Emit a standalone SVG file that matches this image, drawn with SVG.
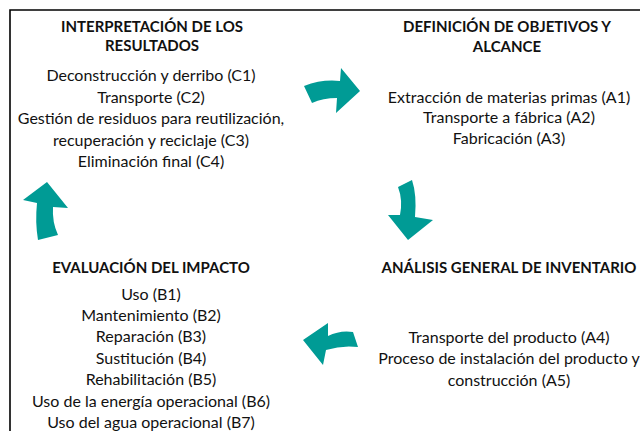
<svg xmlns="http://www.w3.org/2000/svg" width="640" height="431" viewBox="0 0 640 431">
<style>
.t{font-family:Lato,"Liberation Sans",sans-serif;font-size:16px;fill:#111;text-anchor:middle}
.h{font-family:Lato,"Liberation Sans",sans-serif;font-size:15px;font-weight:bold;fill:#111;text-anchor:middle}
.arr{fill:#009b95}
.frame{stroke:#000;stroke-width:1.6;fill:none}
</style>
<rect width="640" height="431" fill="#fff"/>
<path class="frame" d="M10,431 V10 H640"/>
<g id="interpretacion">
<text class="h" x="152" y="32">INTERPRETACIÓN DE LOS</text>
<text class="h" x="152" y="51">RESULTADOS</text>
<text class="t" x="151" y="81">Deconstrucción y derribo (C1)</text>
<text class="t" x="151" y="103">Transporte (C2)</text>
<text class="t" x="151" y="124">Gestión de residuos para reutilización,</text>
<text class="t" x="151" y="146">recuperación y reciclaje (C3)</text>
<text class="t" x="151" y="167">Eliminación final (C4)</text>
</g>
<g id="definicion">
<text class="h" x="507" y="32">DEFINICIÓN DE OBJETIVOS Y</text>
<text class="h" x="507" y="52">ALCANCE</text>
<text class="t" x="509" y="103">Extracción de materias primas (A1)</text>
<text class="t" x="509" y="123">Transporte a fábrica (A2)</text>
<text class="t" x="509" y="144">Fabricación (A3)</text>
</g>
<g id="analisis">
<text class="h" x="509" y="273">ANÁLISIS GENERAL DE INVENTARIO</text>
<text class="t" x="509" y="343">Transporte del producto (A4)</text>
<text class="t" x="509" y="364">Proceso de instalación del producto y</text>
<text class="t" x="509" y="386">construcción (A5)</text>
</g>
<g id="evaluacion">
<text class="h" x="151" y="273">EVALUACIÓN DEL IMPACTO</text>
<text class="t" x="151" y="300">Uso (B1)</text>
<text class="t" x="151" y="321">Mantenimiento (B2)</text>
<text class="t" x="151" y="342">Reparación (B3)</text>
<text class="t" x="151" y="364">Sustitución (B4)</text>
<text class="t" x="151" y="385">Rehabilitación (B5)</text>
<text class="t" x="151" y="407">Uso de la energía operacional (B6)</text>
<text class="t" x="151" y="428">Uso del agua operacional (B7)</text>
</g>
<g id="connectors">
<path class="arr" d="M304,86 Q322,79 340,81 L341,68 L360,91 L336,113 L337,98 Q323,98 312,103 Z"/>
<path class="arr" d="M398,187 Q403,200 400,215 L388,215 L408,240 L433,220 L415,217 Q417,195 412,180 Z"/>
<path class="arr" d="M353,332 Q340,330 328,336 L328,323 L303,340 L323,365 L326,350 Q342,345 358,347 Z"/>
<path class="arr" d="M47,182 L23,200 L37,203 Q35,222 38,240 L58,235 Q52,222 53,207 L68,208 Z"/>
</g>
</svg>
